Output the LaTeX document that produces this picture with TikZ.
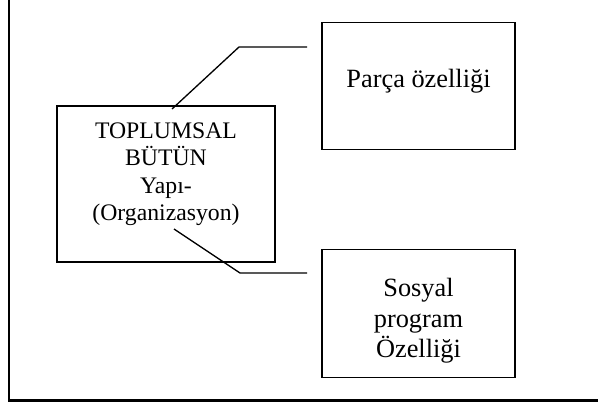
\documentclass[tikz,border=0pt]{standalone}
\usepackage{fontspec}
\setmainfont{Liberation Serif}
\usetikzlibrary{positioning}

\tikzset{
  box/.style={draw, line width=0.7pt, inner sep=0pt},
  txt/.style={align=center, inner sep=0pt}
}

\begin{document}
\begin{tikzpicture}[x=0.02cm, y=-0.02cm]
  \useasboundingbox (0,0) rectangle (598,403);
  \draw[line width=1.7pt] (9,0) -- (9,400) -- (598,400);
  % boxes
  \node[box, minimum width=4.36cm, minimum height=3.12cm] (whole) at (166,184) {};
  \node[box, minimum width=3.86cm, minimum height=2.54cm] (part) at (418.5,86.3) {};
  \node[box, minimum width=3.86cm, minimum height=2.56cm] (social) at (418.5,313.3) {};
  \node[txt, font=\fontsize{13.5}{15.6}\selectfont, below=0.34cm of whole.north] (wholetxt)
    {TOPLUMSAL\\BÜTÜN\\Yapı-\\(Organizasyon)};
  \node[txt, font=\fontsize{15}{17.3}\selectfont, below=0.93cm of part.north] (parttxt)
    {Parça özelliği};
  \node[txt, font=\fontsize{15}{17.3}\selectfont, below=0.59cm of social.north] (socialtxt)
    {Sosyal\\program\\Özelliği};
  % callout lines
  \coordinate (up1) at (172,109);
  \coordinate (up2) at (239,47);
  \coordinate (up3) at (307,47);
  \coordinate (lo1) at (174,229);
  \coordinate (lo2) at (240,273);
  \coordinate (lo3) at (307,273);
  \draw[line width=0.75pt] (up1) -- (up2) -- (up3);
  \draw[line width=0.75pt] (lo1) -- (lo2) -- (lo3);
\end{tikzpicture}
\end{document}
